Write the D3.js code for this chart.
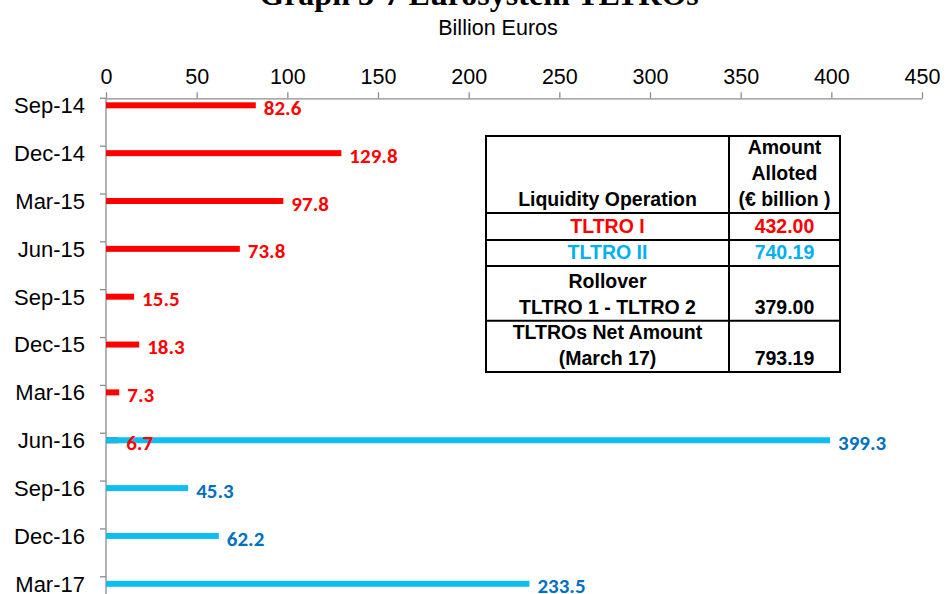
<!DOCTYPE html>
<html>
<head>
<meta charset="utf-8">
<script src="https://cdn.jsdelivr.net/npm/d3@7"></script>
<style>
  body { margin: 0; background: #fff; }
  svg { display: block; }
</style>
</head>
<body>
<svg id="chart"></svg>
<script>
// data
const categories = ["Sep-14", "Dec-14", "Mar-15", "Jun-15", "Sep-15", "Dec-15",
                    "Mar-16", "Jun-16", "Sep-16", "Dec-16", "Mar-17"];
const tltro1 = [82.6, 129.8, 97.8, 73.8, 15.5, 18.3, 7.3, 6.7, null, null, null];
const tltro2 = [null, null, null, null, null, null, null, 399.3, 45.3, 62.2, 233.5];
const xTicks = [0, 50, 100, 150, 200, 250, 300, 350, 400, 450];

const tableOps = [["Liquidity Operation"], ["TLTRO I"], ["TLTRO II"],
                  ["Rollover", "TLTRO 1 - TLTRO 2"], ["TLTROs Net Amount", "(March 17)"]];
const tableAmounts = [["Amount", "Alloted", "(€ billion )"], ["432.00"], ["740.19"], ["379.00"], ["793.19"]];
const tableColors = ["#000", "#ff0000", "#00b0f0", "#000", "#000"];

const width = 946, height = 594;
const red = "#ff0000", blue = "#10bdf3", blueText = "#0070c0", axisGray = "#8c8c8c";

const svg = d3.select("#chart").attr("width", width).attr("height", height);

const x = d3.scaleLinear().domain([0, 450]).range([106, 922]);
const y = d3.scaleBand().domain(categories).range([98.3, 98.3 + 47.85 * categories.length]);
const barOffset = 7; // bars sit near the top of each band, like the original

// title (cut off at the top in the reference)
svg.append("text")
  .attr("x", 479).attr("y", 5)
  .attr("text-anchor", "middle")
  .attr("font-family", "'Liberation Serif', 'Times New Roman', serif")
  .attr("font-weight", "bold").attr("font-size", 32)
  .text("Graph 3-7 Eurosystem TLTROs");

svg.append("text")
  .attr("x", 498).attr("y", 35)
  .attr("text-anchor", "middle")
  .attr("font-family", "'Liberation Sans', Arial, sans-serif")
  .attr("font-size", 21.5)
  .text("Billion Euros");

// top value axis
const xAxis = svg.append("g")
  .attr("transform", `translate(0, ${y.range()[0]})`)
  .call(d3.axisTop(x).tickValues(xTicks).tickSize(6).tickPadding(8).tickSizeOuter(0));
xAxis.select(".domain").attr("stroke", axisGray).attr("stroke-width", 1.3);
xAxis.selectAll(".tick line").attr("stroke", axisGray).attr("stroke-width", 1.3);
xAxis.selectAll(".tick text")
  .attr("font-family", "'Liberation Sans', Arial, sans-serif")
  .attr("font-size", 21.5).attr("fill", "#000");

// left category axis: ticks between categories, labels next to bars
const yAxis = svg.append("g");
yAxis.append("line")
  .attr("x1", x(0)).attr("x2", x(0))
  .attr("y1", y.range()[0]).attr("y2", y.range()[1])
  .attr("stroke", axisGray).attr("stroke-width", 1.3);
yAxis.selectAll(".ytick")
  .data(categories)
  .enter()
  .append("line")
  .attr("class", "ytick")
  .attr("x1", x(0) - 6).attr("x2", x(0))
  .attr("y1", d => y(d)).attr("y2", d => y(d))
  .attr("stroke", axisGray).attr("stroke-width", 1.3);
yAxis.selectAll(".ylabel")
  .data(categories)
  .enter()
  .append("text")
  .attr("class", "ylabel")
  .attr("x", 85)
  .attr("y", d => y(d) + barOffset)
  .attr("dy", "0.36em")
  .attr("text-anchor", "end")
  .attr("font-family", "'Liberation Sans', Arial, sans-serif")
  .attr("font-size", 22)
  .text(d => d);

function drawSeries(values, cls, barColor, barHeight) {
  const pts = categories.map((c, i) => ({cat: c, value: values[i]})).filter(d => d.value != null);
  svg.selectAll("rect." + cls)
    .data(pts)
    .enter()
    .append("rect")
    .attr("class", cls)
    .attr("x", x(0))
    .attr("y", d => y(d.cat) + barOffset - barHeight / 2)
    .attr("width", d => x(d.value) - x(0))
    .attr("height", barHeight)
    .attr("fill", barColor);
  return pts;
}

const pts1 = drawSeries(tltro1, "t1", red, 6);
const pts2 = drawSeries(tltro2, "t2", blue, 6);

// data labels (drawn after all bars so 6.7 stays on top of the blue bar)
[[pts1, "l1", red], [pts2, "l2", blueText]].forEach(([pts, cls, col]) => {
  svg.selectAll("text." + cls)
    .data(pts)
    .enter()
    .append("text")
    .attr("class", cls)
    .attr("x", d => x(d.value) + 8)
    .attr("y", d => y(d.cat) + barOffset + 2)
    .attr("dy", "0.36em")
    .attr("font-family", "Carlito, Lato, sans-serif")
    .attr("font-weight", "bold").attr("font-size", 21)
    .attr("fill", col)
    .text(d => d.value.toFixed(1));
});

// summary table
const tLeft = 486, tMid = 729, tRight = 840;
const rowEdges = [136, 213, 240, 266, 320.7, 372];
const table = svg.append("g").attr("class", "table");

table.append("rect")
  .attr("x", tLeft).attr("y", rowEdges[0])
  .attr("width", tRight - tLeft).attr("height", rowEdges[5] - rowEdges[0])
  .attr("fill", "#fff").attr("stroke", "#000").attr("stroke-width", 2);
table.append("line")
  .attr("x1", tMid).attr("x2", tMid)
  .attr("y1", rowEdges[0]).attr("y2", rowEdges[5])
  .attr("stroke", "#000").attr("stroke-width", 2);
table.selectAll(".rowline")
  .data(rowEdges.slice(1, -1))
  .enter()
  .append("line")
  .attr("class", "rowline")
  .attr("x1", tLeft).attr("x2", tRight)
  .attr("y1", d => d).attr("y2", d => d)
  .attr("stroke", "#000").attr("stroke-width", 2);

function cellText(lines, cx, rowIdx) {
  const bottom = rowEdges[rowIdx + 1] - 7;
  lines.forEach((t, j) => {
    table.append("text")
      .attr("x", cx)
      .attr("y", bottom - (lines.length - 1 - j) * 26)
      .attr("text-anchor", "middle")
      .attr("font-family", "'Liberation Sans', Arial, sans-serif")
      .attr("font-weight", "bold").attr("font-size", 19.5)
      .attr("fill", tableColors[rowIdx])
      .text(t);
  });
}
tableOps.forEach((lines, i) => cellText(lines, (tLeft + tMid) / 2, i));
tableAmounts.forEach((lines, i) => cellText(lines, (tMid + tRight) / 2, i));
</script>
</body>
</html>
